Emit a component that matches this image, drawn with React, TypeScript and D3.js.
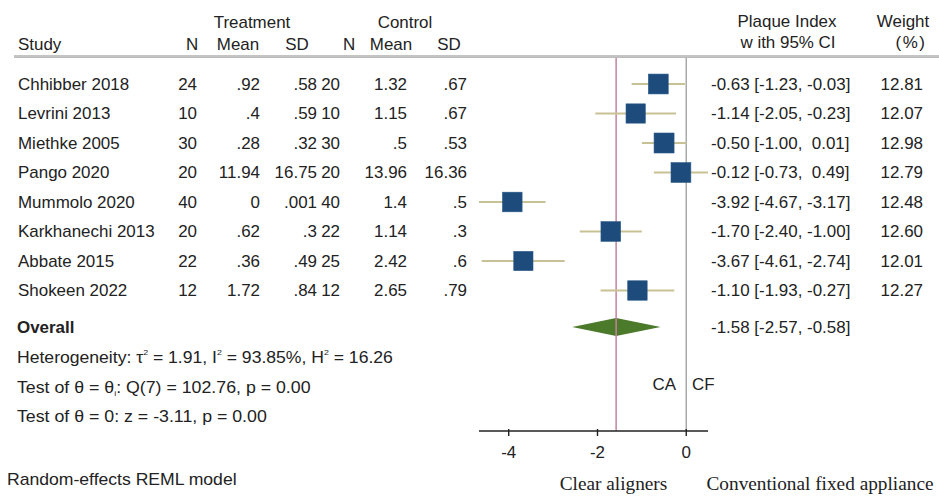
import React from "react";
import * as d3 from "d3";

const studies = ["Chhibber 2018", "Levrini 2013", "Miethke 2005", "Pango 2020", "Mummolo 2020", "Karkhanechi 2013", "Abbate 2015", "Shokeen 2022"];
const treatN = [24, 10, 30, 20, 40, 20, 22, 12];
const treatMean = [0.92, 0.4, 0.28, 11.94, 0, 0.62, 0.36, 1.72];
const treatSD = [0.58, 0.59, 0.32, 16.75, 0.001, 0.3, 0.49, 0.84];
const ctrlN = [20, 10, 30, 20, 40, 22, 25, 12];
const ctrlMean = [1.32, 1.15, 0.5, 13.96, 1.4, 1.14, 2.42, 2.65];
const ctrlSD = [0.67, 0.67, 0.53, 16.36, 0.5, 0.3, 0.6, 0.79];
const effect = [-0.63, -1.14, -0.5, -0.12, -3.92, -1.7, -3.67, -1.1];
const ciLow = [-1.23, -2.05, -1.0, -0.73, -4.67, -2.4, -4.61, -1.93];
const ciHigh = [-0.03, -0.23, 0.01, 0.49, -3.17, -1.0, -2.74, -0.27];
const weights = [12.81, 12.07, 12.98, 12.79, 12.48, 12.6, 12.01, 12.27];
const overall = [-1.58, -2.57, -0.58];
const xTicks = [-4, -2, 0];
const axisDomain = [-4.67, 0.49];
const colHeaders = ["N", "Mean", "SD", "N", "Mean", "SD"];

const SX = 1.06;
const FONT = "'Liberation Sans', Arial, sans-serif";
const SERIF = "'Liberation Serif', 'Times New Roman', serif";
const TXT = "#222";

const stata = (v: number) => String(v).replace(/^0\./, ".").replace(/^-0\./, "-.");
const f2 = (v: number) => d3.format(".2f")(v).replace("\u2212", "-");
const pad = (s: string) => (s.length < 5 ? " ".repeat(5 - s.length) + s : s);
const ciText = (e: number, l: number, h: number) => `${pad(f2(e))} [${pad(f2(l))}, ${pad(f2(h))}]`;

function T({ x, y, anchor = "start", bold = false, size = 16, sx = SX, ls = 0, children }: any) {
  return (
    <text
      transform={`translate(${x},${y}) scale(${sx},1)`}
      textAnchor={anchor}
      fontFamily={FONT}
      fontSize={size}
      fontWeight={bold ? "bold" : "normal"}
      letterSpacing={ls}
      fill={TXT}
      style={{ whiteSpace: "pre" }}
    >
      {children}
    </text>
  );
}

export default function App() {
  const x = d3.scaleLinear().domain(axisDomain).range([479, 708]);
  const rowY = (i: number) => 84 + i * 29.5;
  const yOverall = 327;
  const yHet = 357;
  const yT1 = 387;
  const yT2 = 416;
  const axisY = 431;
  const topY = 57;
  const size = d3.scaleSqrt().domain([0, d3.max(weights) as number]).range([0, 20]);
  const bl = 5.5;

  const cols = [
    { xr: 197, hc: 192, vals: treatN },
    { xr: 260, hc: 238, vals: treatMean },
    { xr: 317, hc: 297, vals: treatSD },
    { xr: 340, hc: 349, vals: ctrlN },
    { xr: 407, hc: 391, vals: ctrlMean },
    { xr: 467, hc: 449, vals: ctrlSD },
  ];

  return (
    <svg width={939} height={496} style={{ position: "absolute", left: 0, top: 0, background: "#fff" }}>
      {/* headers */}
      <T x={252} y={28} anchor="middle">Treatment</T>
      <T x={405} y={28} anchor="middle">Control</T>
      <T x={18} y={50}>Study</T>
      {colHeaders.map((h, i) => (
        <T key={i} x={cols[i].hc} y={50} anchor="middle">{h}</T>
      ))}
      <T x={787} y={27} anchor="middle">Plaque Index</T>
      <T x={788} y={48} anchor="middle">w ith 95% CI</T>
      <T x={903} y={27} anchor="middle">Weight</T>
      <T x={911} y={48} anchor="middle" ls={1.5}>(%)</T>
      <line x1={14} x2={939} y1={topY - 1} y2={topY - 1} stroke="#888" strokeWidth={1} />
      <line x1={14} x2={939} y1={topY + 0.5} y2={topY + 0.5} stroke="#bbb" strokeWidth={1.2} />

      {/* reference lines */}
      <line x1={x(0)} x2={x(0)} y1={topY + 1} y2={axisY} stroke="#a8a8a8" strokeWidth={1.5} />
      <line x1={x(overall[0])} x2={x(overall[0])} y1={topY + 1} y2={axisY} stroke="#c4829f" strokeWidth={1.5} />

      {/* rows */}
      {studies.map((s, i) => {
        const y = rowY(i);
        const side = size(weights[i]);
        return (
          <g key={s}>
            <T x={18} y={y + bl}>{s}</T>
            {cols.map((c, j) => (
              <T key={j} x={c.xr} y={y + bl} anchor="end">{stata(c.vals[i])}</T>
            ))}
            <line x1={x(ciLow[i])} x2={x(ciHigh[i])} y1={y} y2={y} stroke="#c9c196" strokeWidth={2} />
            <rect x={x(effect[i]) - side / 2} y={y - side / 2} width={side} height={side} fill="#1d4b7c" stroke="#2a5a8a" strokeWidth={0.6} />
            <T x={711} y={y + bl}>{ciText(effect[i], ciLow[i], ciHigh[i])}</T>
            <T x={923} y={y + bl} anchor="end">{f2(weights[i])}</T>
          </g>
        );
      })}

      {/* overall */}
      <T x={17} y={yOverall + bl} bold>Overall</T>
      <path
        d={`M${x(overall[1])},${yOverall} L${x(overall[0])},${yOverall - 9} L${x(overall[2])},${yOverall} L${x(overall[0])},${yOverall + 9} Z`}
        fill="#4b7a2b"
      />
      <line x1={x(overall[0])} x2={x(overall[0])} y1={yOverall - 9} y2={yOverall + 9} stroke="#c4829f" strokeWidth={1.5} />
      <T x={711} y={yOverall + bl}>{ciText(overall[0], overall[1], overall[2])}</T>

      <T x={17} y={yHet + bl} sx={1.1}>
        {"Heterogeneity: τ"}
        <tspan dy={-8} fontSize={8}>2</tspan>
        <tspan dy={8}>{" = 1.91, I"}</tspan>
        <tspan dy={-8} fontSize={8}>2</tspan>
        <tspan dy={8}>{" = 93.85%, H"}</tspan>
        <tspan dy={-8} fontSize={8}>2</tspan>
        <tspan dy={8}>{" = 16.26"}</tspan>
      </T>
      <T x={17} y={yT1 + bl} sx={1.11}>
        {"Test of θ = θ"}
        <tspan dy={3} fontSize={8}>i</tspan>
        <tspan dy={-3}>{": Q(7) = 102.76, p = 0.00"}</tspan>
      </T>
      <T x={17} y={yT2 + bl} sx={1.11}>{"Test of θ = 0: z = -3.11, p = 0.00"}</T>

      <T x={676} y={yT1 + 3} anchor="end">CA</T>
      <T x={692} y={yT1 + 3}>CF</T>

      {/* axis */}
      <line x1={x(axisDomain[0])} x2={x(axisDomain[1])} y1={axisY} y2={axisY} stroke="#222" strokeWidth={1.6} />
      {xTicks.map((t) => (
        <g key={t}>
          <line x1={x(t)} x2={x(t)} y1={axisY - 2} y2={axisY + 5} stroke="#222" strokeWidth={1.4} />
          <T x={x(t)} y={458} anchor="middle">{String(t)}</T>
        </g>
      ))}

      <T x={7} y={485} sx={1.1}>Random-effects REML model</T>
      <text x={613.5} y={490} textAnchor="middle" fontFamily={SERIF} fontSize={19.3} fill={TXT}>Clear aligners</text>
      <text x={820} y={490} textAnchor="middle" fontFamily={SERIF} fontSize={19.3} fill={TXT}>Conventional fixed appliance</text>
    </svg>
  );
}
